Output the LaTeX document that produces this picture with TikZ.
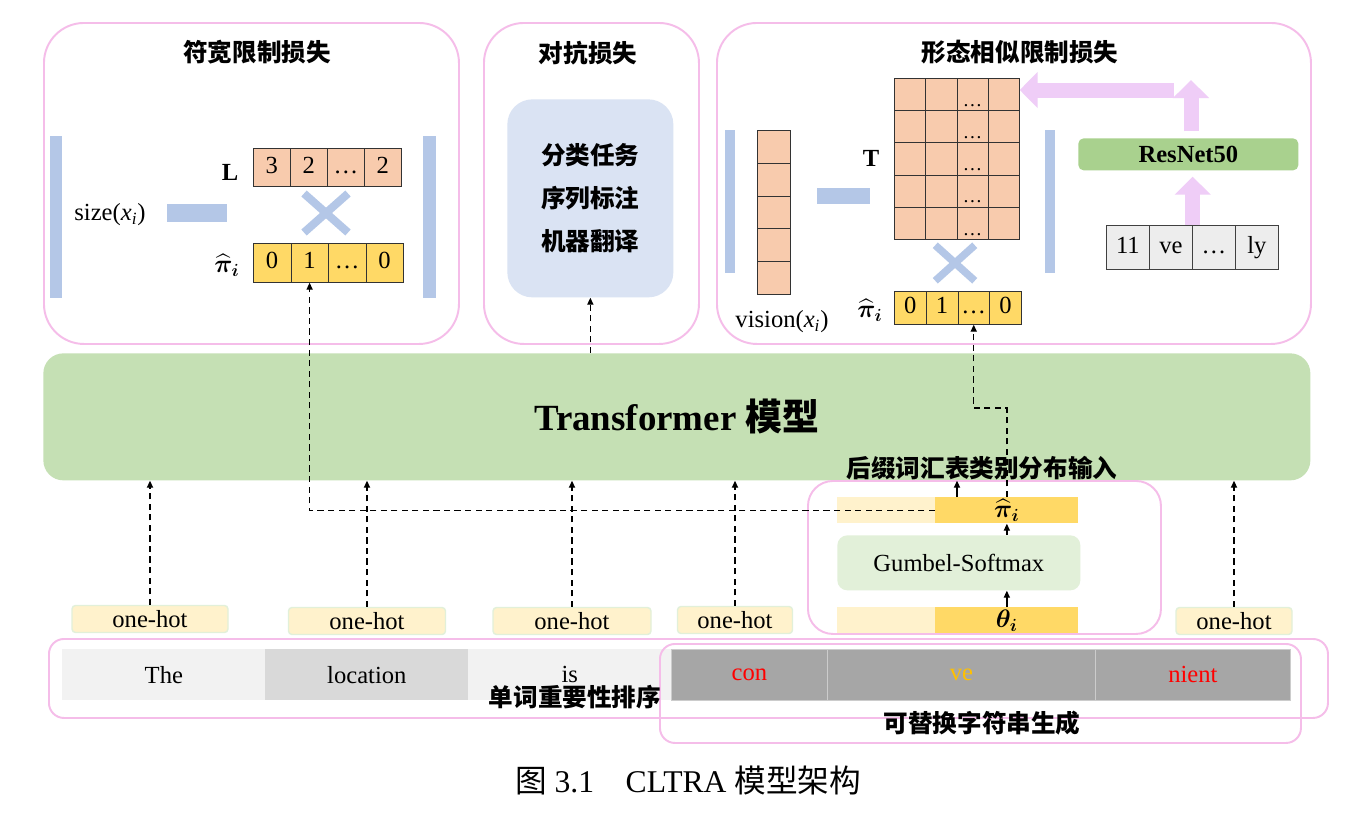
\documentclass[tikz,border=0pt]{standalone}
\usepackage{amsmath}
\usepackage{bm}
\usepackage{fontspec}
\setmainfont{Liberation Serif}
\newfontfamily\cjk{Noto Sans CJK SC}
\usepackage{tikz}
\usetikzlibrary{arrows.meta, positioning, calc, shapes.misc}
\definecolor{panelpink}{HTML}{F5BDE9}
\definecolor{barblue}{HTML}{B4C7E7}
\definecolor{peach}{HTML}{F8CBAD}
\definecolor{gold}{HTML}{FFD966}
\definecolor{lightgold}{HTML}{FFF2CC}
\definecolor{tfgreen}{HTML}{C5E0B4}
\definecolor{resgreen}{HTML}{A9D18E}
\definecolor{gsgreen}{HTML}{E2F0D9}
\definecolor{advblue}{HTML}{DAE3F3}
\definecolor{arrowpink}{HTML}{EFCDF7}
\definecolor{tokgray}{HTML}{EDEDED}
\definecolor{wlight}{HTML}{F2F2F2}
\definecolor{wmid}{HTML}{D9D9D9}
\definecolor{wdark}{HTML}{A6A6A6}
\definecolor{vegold}{HTML}{FFC000}

\begin{document}
\begin{tikzpicture}[x=0.02cm, y=-0.02cm,
  every node/.style={font=\fontsize{14}{16}\selectfont, inner sep=0pt},
  sz/.style 2 args={minimum width=#1*0.02cm, minimum height=#2*0.02cm},
  panel/.style={draw=panelpink, line width=1.1pt, rounded corners=0.8cm, anchor=north west},
  frame/.style={draw=panelpink, line width=1.1pt, rounded corners=0.3cm, anchor=north west},
  ttl/.style={font=\cjk\bfseries\fontsize{14}{16}\selectfont},
  bold/.style={font=\bfseries\fontsize{14}{16}\selectfont},
  bar/.style={fill=barblue, anchor=north west},
  xmark/.style={cross out, draw=barblue, line width=0.16cm},
  celltxt/.style={text height=9.5pt, text depth=3pt},
  lcell/.style={celltxt, draw=black!80, fill=peach, sz={37}{38}, anchor=north west},
  pcell/.style={celltxt, draw=black!80, fill=gold, sz={37.5}{39}, anchor=north west},
  vcell/.style={draw=black!80, fill=peach, sz={33}{32.8}, anchor=north west},
  mcell/.style={draw=black!80, fill=peach, sz={31.25}{32.2}, anchor=north west},
  qcell/.style={celltxt, draw=black!80, fill=gold, sz={31.75}{33}, anchor=north west},
  tcell/.style={celltxt, draw=black!75, fill=tokgray, sz={43}{44}, anchor=north west},
  resbox/.style={fill=resgreen, rounded corners=3pt, anchor=north west,
                 font=\bfseries\fontsize{14}{16}\selectfont},
  advbox/.style={fill=advblue, rounded corners=0.5cm, anchor=north west, align=center,
                 font=\cjk\bfseries\fontsize{14}{24.5}\selectfont},
  tfbox/.style={fill=tfgreen, rounded corners=0.4cm, anchor=north west,
                font=\bfseries\fontsize{21}{24}\selectfont},
  gsbox/.style={fill=gsgreen, rounded corners=0.2cm, anchor=north west},
  rowl/.style={fill=lightgold, anchor=north west},
  rowg/.style={fill=gold, anchor=north west},
  onehot/.style={draw=gsgreen, line width=0.8pt, fill=lightgold, rounded corners=2pt},
  word/.style={anchor=north west},
  fatarr/.style={draw=arrowpink, line width=0.3cm,
                 -{Triangle[width=0.7cm, length=0.36cm]}},
  dasharr/.style={dash pattern=on 3.5pt off 2.5pt, line width=0.75pt,
                  -{Triangle[length=4pt, width=3.5pt]}},
  solarr/.style={line width=0.75pt, -{Triangle[length=4pt, width=3.5pt]}},
]
\useasboundingbox (0,0) rectangle (1366,812);
\fill[white] (0,0) rectangle (1366,812);

%% Top panels
\node[panel, sz={415}{321}] (szp) at (43,22) {};
\node[panel, sz={215}{321}] (advp) at (483,22) {};
\node[panel, sz={594}{321}] (visp) at (716,22) {};
\node[ttl] (szt) at (257,52) {符宽限制损失};
\node[ttl] (advt) at (588,53) {对抗损失};
\node[ttl] (vist) at (1020,52) {形态相似限制损失};

%% Width loss
\node[bar, sz={12}{162}] (szl) at (50,136) {};
\node[bar, sz={13}{162}] (szr) at (423,136) {};
\node (sizex) at (110,215) {size(\textit{x}\textsubscript{\textit{i}})};
\node[bar, sz={60}{18}] (szm) at (167,204) {};
\node[bold] (Ll) at (230,172) {L};
\foreach \v [count=\k] in {3,2,…,2}
  \node[lcell] (L\k) at ({253+37*(\k-1)},148) {\v};
\node[xmark, sz={36}{31}] (szx) at (326,213) {};
\node (Pl) at (227,265) {$\bm{\widehat{\pi}_i}$};
\foreach \v [count=\k] in {0,1,…,0}
  \node[pcell] (P\k) at ({253+37.5*(\k-1)},243) {\v};

%% Adversarial loss
\node[advbox, sz={166}{198}] (adv) at (507,99) {分类任务\\序列标注\\机器翻译};

%% Visual similarity loss
\node[bar, sz={10}{143}] (visl) at (725,130) {};
\foreach \k in {1,...,5}
  \node[vcell] (V\k) at (757,{130+32.8*(\k-1)}) {};
\node (visx) at (782,322) {vision(\textit{x}\textsubscript{\textit{i}})};
\node[bar, sz={53}{16}] (vism) at (817,188) {};
\node[bold] (Tl) at (871,158) {T};
\foreach \r in {1,...,5}
  \foreach \c in {1,...,4}
    \node[mcell] (M\r\c) at ({894+31.25*(\c-1)},{78+32.2*(\r-1)}) {};
\foreach \r in {1,...,5}
  \node[anchor=south, font=\fontsize{11}{12}\selectfont] (D\r)
    at ($(M\r3.south)+(0,-4)$) {…};
\node[bar, sz={10}{143}] (visr) at (1045,130) {};
\node[xmark, sz={32}{28}, line width=0.15cm] (visx2) at (955,263) {};
\node (Ql) at (870,310) {$\bm{\widehat{\pi}_i}$};
\foreach \v [count=\k] in {0,1,…,0}
  \node[qcell] (Q\k) at ({894+31.75*(\k-1)},291) {\v};
\node[resbox, sz={220}{32}] (res) at (1078,138) {ResNet50};
\foreach \v [count=\k] in {11,ve,…,ly}
  \node[tcell] (T\k) at ({1106+43*(\k-1)},225) {\v};
\coordinate (htail) at (1174,90);
\coordinate (vtip) at (1191,80);
\draw[fatarr] (htail) -- (htail -| M14.east);
\draw[fatarr, shorten <=0.14cm] (res.north -| vtip) -- (vtip);
\draw[fatarr, shorten >=0.12cm] (T2.north east) -- (T2.north east |- res.south);

%% Transformer
\node[tfbox, sz={1267}{127}] (tf) at (43,353) {Transformer {\cjk 模型}};
\draw[dasharr] (tf.north -| adv.south) -- (adv.south);

%% Gumbel-Softmax branch
\node[frame, sz={353}{153}, rounded corners=0.5cm] (gsp) at (807,480) {};
\node[rowl, sz={98}{26}] (pil) at (837,497) {};
\node[rowg, sz={143}{26}] (pig) at (935,497) {$\bm{\widehat{\pi}_i}$};
\node[gsbox, sz={243}{55}] (gs) at (837,535) {Gumbel-Softmax};
\node[rowl, sz={98}{26}] (thl) at (837,607) {};
\node[rowg, sz={143}{26}] (thg) at (935,607) {$\bm{\theta_i}$};
\draw[solarr] (thg.north) -- (thg.north |- gs.south);
\draw[solarr] (gs.north -| pig.south) -- (pig.south);
\coordinate (pup) at ($(pig.north west)+(22,0)$);
\draw[solarr] (pup) -- (pup |- tf.south);
\draw[dasharr] (pig.west) -| (P2.south);
\draw[dasharr] (pig.north) -- ++(0,-89) -| (Q3.south);
\node[ttl] (sfx) at (982,468) {后缀词汇表类别分布输入};

%% one-hot inputs
\node[onehot, sz={156}{27}] (oh1) at (150,619) {one-hot};
\node[onehot, sz={157}{27}] (oh2) at (367,621) {one-hot};
\node[onehot, sz={158}{27}] (oh3) at (572,621) {one-hot};
\node[onehot, sz={115}{27}] (oh4) at (735,620) {one-hot};
\node[onehot, sz={116}{27}] (oh5) at (1234,621) {one-hot};
\foreach \n in {oh1,oh2,oh3,oh4,oh5}
  \draw[dasharr] (\n.north) -- (\n.north |- tf.south);

%% Words
\node[word, fill=wlight, sz={203}{51}] (w1) at (62,649) {The};
\node[word, fill=wmid, sz={203}{51}] (w2) at (265,649) {location};
\node[word, fill=wlight, sz={203}{51}] (w3) at (468,649) {is};
\node[word, fill=wdark, draw=black!20, sz={156}{51}, text=red] (w4) at (671,649) {con};
\node[word, fill=wdark, draw=black!20, sz={268}{51}, text=vegold] (w5) at (827,649) {ve};
\node[word, fill=wdark, draw=black!20, sz={195}{51}, text=red] (w6) at (1095,649) {nient};
\node[frame, sz={1279}{79}] (wr1) at (48,638) {};
\node[frame, sz={641}{99}] (wr2) at (659,643) {};
\node[ttl] (rank) at (575,697) {单词重要性排序};
\node[ttl] (gen) at (982,723) {可替换字符串生成};

%% Caption
\node[font=\fontsize{18}{20}\selectfont] (cap) at (688,780)
  {{\cjk 图} 3.1\quad CLTRA {\cjk 模型架构}};
\end{tikzpicture}
\end{document}
